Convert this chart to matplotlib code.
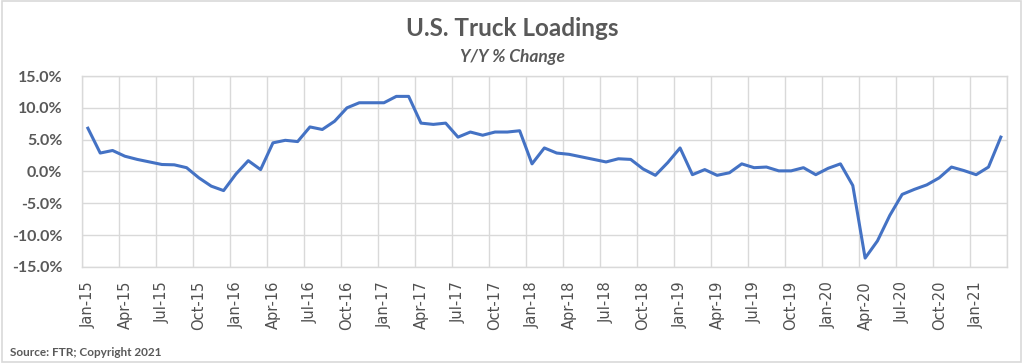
import matplotlib
matplotlib.use("Agg")
import matplotlib.pyplot as plt
import matplotlib.ticker as mticker
from matplotlib.patches import Rectangle
import numpy as np

months = ["Jan", "Feb", "Mar", "Apr", "May", "Jun", "Jul", "Aug", "Sep", "Oct", "Nov", "Dec"]
years = ["15", "16", "17", "18", "19", "20", "21"]
dates = [f"{m}-{y}" for y in years for m in months][:75]

yoy = [6.8, 2.9, 3.3, 2.4, 1.9, 1.5, 1.1, 1.05, 0.6, -1.0, -2.3, -3.0,
       -0.4, 1.7, 0.3, 4.5, 4.9, 4.7, 7.0, 6.6, 7.9, 10.0, 10.8, 10.8,
       10.8, 11.8, 11.8, 7.6, 7.4, 7.6, 5.4, 6.2, 5.7, 6.2, 6.2, 6.4,
       1.2, 3.7, 2.9, 2.7, 2.3, 1.9, 1.5, 2.0, 1.9, 0.4, -0.6, 1.4,
       3.7, -0.5, 0.3, -0.6, -0.2, 1.2, 0.6, 0.7, 0.1, 0.1, 0.6, -0.5,
       0.5, 1.2, -2.2, -13.6, -10.9, -6.9, -3.6, -2.8, -2.1, -1.0, 0.7, 0.15,
       -0.5, 0.7, 5.4]

title = "U.S. Truck Loadings"
subtitle = "Y/Y % Change"
source = "Source: FTR; Copyright 2021"

gray = "#595959"
grid = "#D9D9D9"

fig = plt.figure(figsize=(10.24, 3.63), dpi=100)
ax = fig.add_axes([0.0798, 0.2645, 0.9036, 0.5261])

x = np.arange(len(yoy))
ax.plot(x, np.array(yoy) / 100.0, color="#4472C4", lw=2.2, solid_joinstyle="round", zorder=3)

ax.set_xlim(-0.5, len(yoy) - 0.5)
ax.set_ylim(-0.15, 0.15)
ax.yaxis.set_major_locator(mticker.MultipleLocator(0.05))
ax.yaxis.set_major_formatter(mticker.FuncFormatter(lambda v, p: f"{v*100:.1f}%"))

ax.set_xticks(x[::3])
ax.set_xticklabels(dates[::3], rotation=90, fontsize=10.5, color="#505050", family="DejaVu Sans")
ax.set_xticks(np.arange(-0.5, len(yoy), 3), minor=True)
ax.tick_params(axis="x", which="major", length=0, pad=10)
ax.tick_params(axis="x", which="minor", length=0)
ax.tick_params(axis="y", length=0, pad=14, labelcolor=gray, labelsize=11.5)
for lbl in ax.get_yticklabels():
    lbl.set_fontweight("bold")
    lbl.set_family("Lato")

ax.grid(True, which="minor", axis="x", color=grid, lw=1.0)
ax.grid(True, which="major", axis="y", color=grid, lw=1.0)
ax.grid(False, which="major", axis="x")
for s in ax.spines.values():
    s.set_color(grid)
    s.set_linewidth(1.0)

fig.text(0.5, 1 - 28 / 363, title, ha="center", va="center", fontsize=17.5,
         fontweight="bold", color=gray, family="Lato")
fig.text(0.5, 1 - 57 / 363, subtitle, ha="center", va="center", fontsize=12.5,
         fontweight="bold", style="italic", color=gray, family="Lato")
fig.text(10 / 1024, 1 - 352 / 363, source, ha="left", va="center", fontsize=8.5,
         fontweight="bold", color=gray, family="Lato")

fig.patches.append(Rectangle((0.002, 0.004), 0.995, 0.992, transform=fig.transFigure,
                             fill=False, edgecolor="#D9D9D9", lw=1.2))

fig.savefig("out.png", dpi=100)
